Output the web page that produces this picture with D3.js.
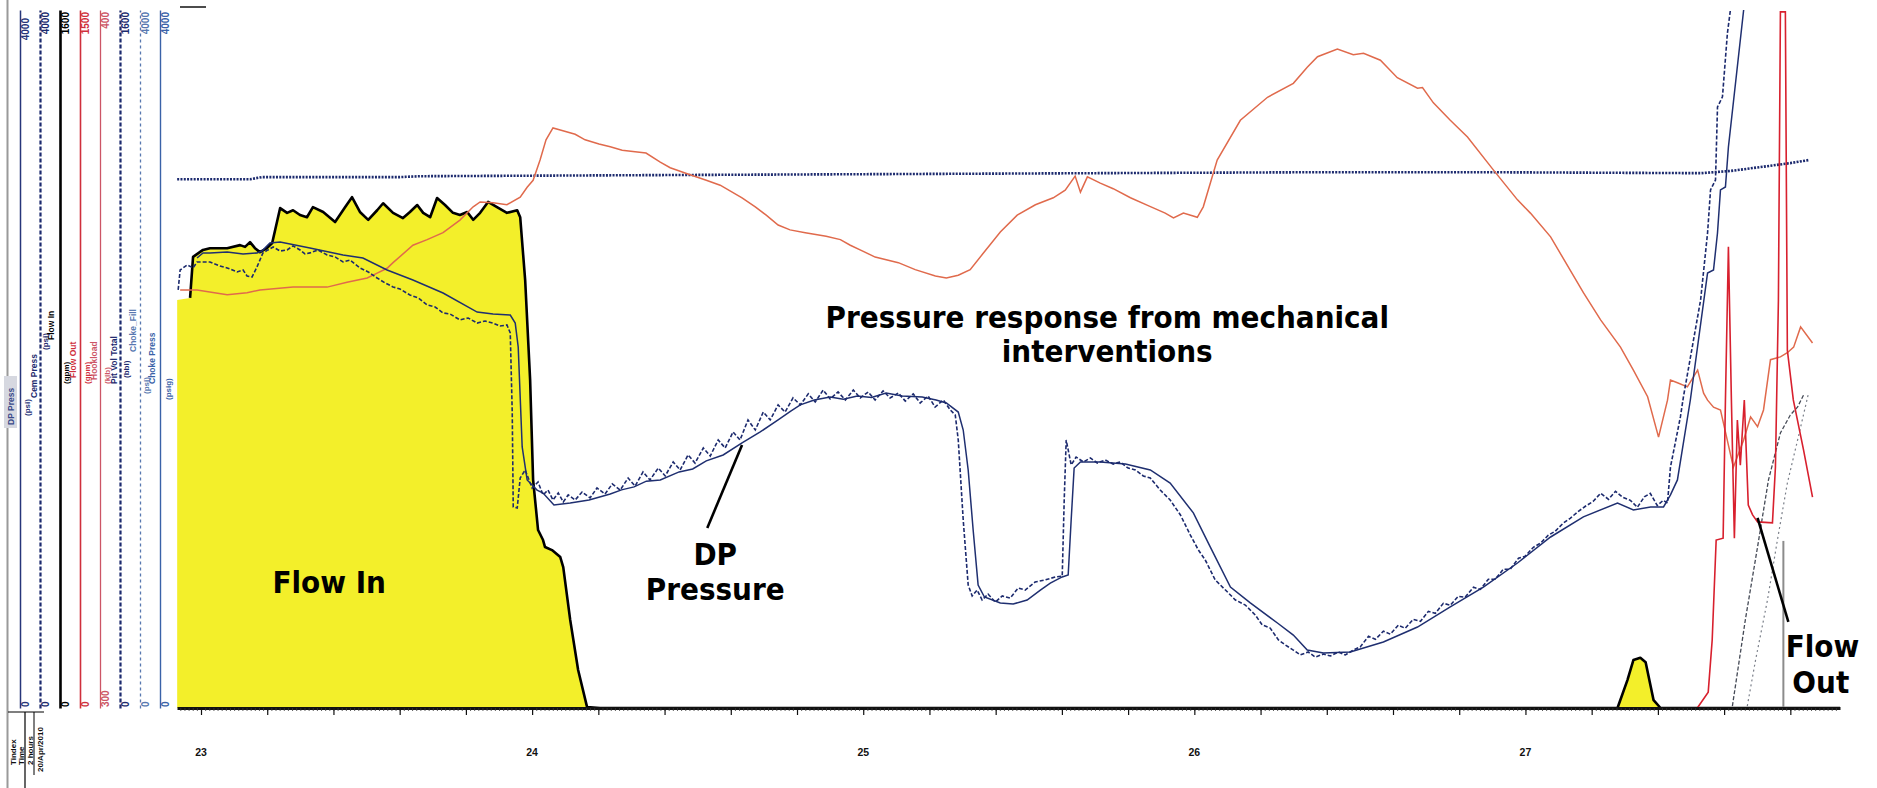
<!DOCTYPE html>
<html><head><meta charset="utf-8">
<script src="https://cdn.jsdelivr.net/npm/d3@7"></script>
<style>
html,body{margin:0;padding:0;background:#fff;}
svg{display:block;}
.ann{font-family:"Liberation Sans Narrow","DejaVu Sans Condensed","Arial Narrow",sans-serif;font-stretch:condensed;font-weight:bold;fill:#000;}
.ax{font-family:"Liberation Sans","DejaVu Sans",sans-serif;font-weight:bold;}
</style></head><body>
<svg id="chart" width="1877" height="788"></svg>
<script>
// ---------------- DATA ----------------
const timeTicks = [0, 10, 20, 30, 40];            // minutes
const timeLabels = ["23", "24", "25", "26", "27"];
const axisNames = ["DP Press","Cem Press","Flow In","Flow Out","Hookload","Pit Vol Total","Choke_Fill","Choke Press"];
const axisUnits = ["(psi)","(psi)","(gpm)","(gpm)","(klb)","(bbl)","(psi)","(psig)"];
const axisMin = [0, 0, 0, 0, 300, 0, 0, 0];
const axisMax = [4000, 4000, 1600, 1500, 400, 1600, 4000, 4000];
const boxTexts = ["Tindex", "Time", "2 hours", "20/Apr/2010"];

// Flow In (gpm) [minute, value]
const flowIn = [[-0.72,935],[-0.33,940],[-0.24,1034],[0.06,1050],[0.27,1054],[0.79,1054],[1.18,1061],[1.33,1057],[1.48,1068],[1.63,1054],[1.78,1045],[1.99,1054],[2.15,1066],[2.39,1146],[2.60,1135],[2.78,1141],[2.99,1130],[3.20,1125],[3.38,1148],[3.69,1137],[4.05,1114],[4.35,1148],[4.56,1171],[4.80,1137],[5.05,1119],[5.32,1141],[5.50,1157],[5.80,1135],[6.10,1123],[6.31,1137],[6.53,1153],[6.71,1135],[6.92,1125],[7.13,1169],[7.37,1153],[7.61,1135],[7.82,1130],[8.04,1137],[8.22,1119],[8.43,1135],[8.67,1160],[8.94,1148],[9.24,1135],[9.55,1141],[9.64,1125],[9.79,981],[9.94,752],[10.03,523],[10.18,408],[10.33,385],[10.39,369],[10.60,362],[10.85,346],[10.94,323],[11.15,202],[11.39,87],[11.66,2],[12.05,0],[42.78,0],[43.08,64],[43.26,110],[43.47,115],[43.63,105],[43.87,18],[44.08,0],[49.5,0]];

// Hookload (klb)
const hookload = [[-0.63,359.9],[-0.12,359.9],[0.79,359.2],[1.39,359.5],[1.78,359.9],[2.78,360.3],[3.81,360.3],[4.41,361.0],[5.02,361.6],[5.32,362.3],[5.62,363.0],[5.80,363.8],[6.40,366.3],[6.83,367.1],[7.31,368.1],[7.82,369.9],[8.22,371.8],[8.43,372.5],[8.82,372.4],[9.24,372.1],[9.64,373.2],[9.85,374.6],[10.03,375.6],[10.24,378.5],[10.42,381.4],[10.63,383.1],[10.85,382.8],[11.30,382.2],[11.60,381.4],[12.02,380.8],[12.36,380.4],[12.72,379.9],[13.11,379.7],[13.44,379.5],[13.87,378.2],[14.17,377.4],[14.77,376.4],[15.26,375.6],[15.68,374.9],[16.34,373.1],[16.74,371.8],[17.07,370.6],[17.43,369.2],[17.79,368.5],[18.25,368.1],[18.88,367.6],[19.31,367.1],[19.61,366.3],[19.97,365.5],[20.36,364.6],[21.06,363.8],[21.57,362.8],[22.18,361.9],[22.51,361.6],[22.87,362.0],[23.23,362.8],[23.60,365.0],[24.14,368.2],[24.65,370.6],[25.20,372.1],[25.74,373.1],[26.10,374.2],[26.40,376.2],[26.56,373.9],[26.77,376.1],[27.16,375.2],[27.55,374.4],[28.07,373.1],[28.64,371.9],[29.12,370.9],[29.37,370.2],[29.67,370.9],[30.09,370.3],[30.27,371.8],[30.69,378.5],[31.39,384.2],[32.21,387.5],[32.99,389.5],[33.41,391.8],[33.72,393.3],[34.32,394.4],[34.80,393.6],[35.11,393.8],[35.62,392.8],[36.13,390.3],[36.74,388.8],[36.89,388.9],[37.22,386.7],[37.73,384.2],[38.25,381.8],[39.03,377.1],[39.76,372.8],[40.15,370.9],[40.76,367.5],[41.75,359.5],[42.27,355.6],[42.87,351.7],[43.26,348.4],[43.69,344.6],[44.02,338.8],[44.29,344.1],[44.38,347.0],[44.59,346.6],[44.89,346.0],[45.20,348.4],[45.38,345.1],[45.50,344.1],[45.68,343.1],[45.89,342.7],[46.28,334.5],[46.59,338.4],[46.80,341.7],[47.01,340.3],[47.19,342.7],[47.40,349.9],[47.70,350.3],[47.91,350.9],[48.10,351.7],[48.31,354.6],[48.67,352.3]];

// Pit Vol Total (bbl)
const pitVol = [[-0.72,1212],[1.48,1212],[1.84,1217],[6.01,1217],[6.62,1219],[15.08,1222],[21.12,1224],[27.16,1226],[33.20,1228],[39.24,1228],[45.29,1226],[46.19,1231],[47.10,1240],[48.00,1249],[48.55,1256]];

// DP Press (psi)
const dpPress = [[-0.12,2579],[0.06,2608],[0.27,2608],[0.79,2613],[1.27,2602],[1.69,2608],[1.84,2619],[2.08,2665],[2.39,2671],[3.29,2636],[4.29,2596],[4.89,2579],[5.62,2510],[6.40,2453],[7.31,2378],[8.34,2269],[8.82,2258],[9.34,2252],[9.49,2206],[9.58,2069],[9.70,1496],[9.85,1307],[10.15,1249],[10.33,1232],[10.66,1163],[11.15,1175],[11.72,1192],[12.36,1226],[12.70,1250],[13.08,1267],[13.45,1300],[13.87,1307],[14.44,1353],[14.85,1370],[15.26,1416],[15.77,1450],[16.34,1519],[16.89,1582],[17.43,1651],[17.80,1700],[18.10,1737],[18.52,1765],[19.00,1782],[19.40,1770],[19.82,1788],[20.25,1779],[20.69,1805],[21.18,1788],[21.78,1782],[22.20,1765],[22.51,1748],[22.87,1696],[23.02,1593],[23.17,1364],[23.32,1020],[23.47,705],[23.66,636],[24.14,602],[24.53,596],[24.95,619],[25.35,676],[25.65,716],[26.01,751],[26.19,762],[26.28,1077],[26.37,1375],[26.56,1410],[27.16,1410],[27.92,1398],[28.67,1364],[29.27,1289],[29.97,1118],[30.48,923],[31.09,693],[31.69,602],[32.51,487],[32.99,418],[33.41,332],[33.90,315],[34.71,321],[35.71,378],[36.74,464],[37.73,579],[38.73,693],[39.76,831],[40.76,980],[41.75,1095],[42.78,1175],[43.26,1135],[43.78,1152],[44.17,1152],[44.38,1221],[44.59,1307],[44.98,1765],[45.50,2493],[45.68,2510],[45.80,2722],[45.89,2969],[46.04,2986],[46.13,3215],[46.59,4000]];

// Cem Press (psi)
const cemPress = [[-0.69,2396],[-0.63,2510],[-0.42,2539],[-0.24,2522],[-0.12,2556],[0.27,2556],[0.57,2533],[0.79,2522],[1.09,2499],[1.27,2510],[1.39,2476],[1.54,2470],[1.69,2527],[1.87,2608],[2.02,2625],[2.18,2642],[2.39,2619],[2.60,2625],[2.78,2648],[2.99,2625],[3.14,2602],[3.29,2608],[3.53,2625],[3.81,2596],[4.05,2585],[4.29,2556],[4.50,2567],[4.80,2522],[5.05,2499],[5.32,2464],[5.56,2436],[5.80,2413],[6.01,2401],[6.31,2367],[6.56,2350],[6.83,2310],[7.07,2298],[7.31,2264],[7.52,2258],[7.82,2224],[8.07,2235],[8.34,2206],[8.58,2218],[8.82,2206],[9.03,2189],[9.24,2195],[9.34,2149],[9.40,1691],[9.43,1152],[9.55,1146],[9.64,1318],[9.79,1364],[10.00,1261],[10.18,1295],[10.33,1221],[10.48,1249],[10.63,1192],[10.79,1232],[10.94,1181],[11.09,1221],[11.30,1192],[11.51,1238],[11.75,1204],[11.96,1261],[12.20,1226],[12.42,1284],[12.66,1249],[12.90,1318],[13.11,1272],[13.35,1353],[13.56,1307],[13.81,1375],[14.02,1330],[14.26,1410],[14.47,1364],[14.71,1450],[14.92,1404],[15.17,1490],[15.38,1444],[15.62,1536],[15.83,1490],[16.07,1582],[16.28,1536],[16.52,1651],[16.74,1593],[16.98,1696],[17.19,1651],[17.43,1737],[17.64,1696],[17.88,1777],[18.10,1737],[18.34,1800],[18.55,1754],[18.79,1822],[19.00,1771],[19.24,1811],[19.46,1765],[19.70,1822],[19.91,1777],[20.15,1811],[20.36,1765],[20.60,1817],[20.81,1777],[21.06,1805],[21.27,1759],[21.51,1800],[21.72,1748],[21.96,1788],[22.17,1725],[22.42,1765],[22.63,1708],[22.78,1679],[22.87,1536],[23.02,1077],[23.17,705],[23.29,642],[23.44,676],[23.59,619],[23.77,653],[23.99,607],[24.20,642],[24.44,630],[24.68,688],[24.89,676],[25.19,722],[25.50,734],[25.80,751],[26.01,756],[26.07,1192],[26.13,1536],[26.19,1479],[26.28,1393],[26.43,1438],[26.65,1410],[26.86,1433],[27.07,1404],[27.31,1421],[27.55,1398],[27.76,1410],[28.00,1375],[28.22,1364],[28.46,1330],[28.67,1318],[28.97,1249],[29.27,1192],[29.58,1106],[29.88,991],[30.12,906],[30.33,848],[30.63,734],[30.94,676],[31.24,619],[31.54,590],[31.84,533],[32.05,476],[32.29,458],[32.54,390],[32.75,361],[32.99,332],[33.20,304],[33.44,321],[33.65,292],[33.90,309],[34.11,298],[34.35,321],[34.56,304],[34.80,332],[35.01,350],[35.26,411],[35.47,394],[35.71,440],[35.92,423],[36.16,474],[36.37,457],[36.61,508],[36.83,497],[37.07,554],[37.28,543],[37.52,600],[37.73,589],[37.97,640],[38.18,635],[38.43,692],[38.64,680],[38.88,738],[39.09,738],[39.33,795],[39.54,795],[39.79,858],[39.99,870],[40.24,921],[40.45,944],[40.69,990],[40.90,1013],[41.14,1059],[41.35,1087],[41.60,1127],[41.81,1156],[42.05,1185],[42.27,1231],[42.51,1196],[42.72,1242],[42.93,1208],[43.17,1190],[43.38,1150],[43.59,1210],[43.77,1230],[43.98,1160],[44.16,1190],[44.29,1175],[44.38,1381],[44.68,1668],[44.77,1782],[45.29,2338],[45.50,2722],[45.59,2969],[45.74,3026],[45.80,3444],[45.95,3502],[46.10,3868],[46.19,4000]];

// Flow Out (gpm)
const flowOut = [[45.19,0],[45.52,34],[45.64,146],[45.76,361],[45.97,365],[46.04,662],[46.13,991],[46.22,662],[46.31,365],[46.40,619],[46.49,522],[46.61,662],[46.73,436],[46.86,415],[47.01,400],[47.46,398],[47.55,518],[47.64,877],[47.70,1496],[47.85,1496],[47.91,769],[48.09,662],[48.40,554],[48.67,453]];

// Choke_Fill / Choke Press (psi)
const chokeFill = [[46.25,11],[46.64,504],[47.01,923],[47.34,1307],[47.70,1576],[48.00,1679],[48.22,1725],[48.40,1794]];
const chokePress = [[46.70,11],[46.95,275],[47.31,619],[47.61,963],[47.91,1289],[48.22,1536],[48.55,1805]];
// gray flow marker (gpm)
const flowMarker = [[47.79,0],[47.79,383]];

// annotations: [minute, psi-scale position]
const annotTexts = ["Pressure response from mechanical", "interventions", "DP", "Pressure", "Flow In", "Flow", "Out"];
const annotT = [27.37, 27.37, 15.53, 15.53, 3.87, 48.97, 48.92];
const annotP = [2241, 2046, 883, 682, 722, 355, 149];
const dpPointer = [[16.34, 1507], [15.29, 1032]];
const flowOutPointer = [[47.01, 1089], [47.94, 493]];

// ---------------- DRAW ----------------
const svg = d3.select("#chart");
const yTop = 10, yBot = 708;
const x = d3.scaleLinear().domain([-0.725, 49.5]).range([177, 1840]);
const yScales = axisMin.map((mn, i) => d3.scaleLinear().domain([mn, axisMax[i]]).range([yBot, yTop]));
const yP = yScales[0], yCem = yScales[1], yF = yScales[2], yFO = yScales[3], yH = yScales[4], yPit = yScales[5], yCF = yScales[6], yCP = yScales[7];

// left axis strip styling
const axisX = [20, 40, 60, 80, 100, 120, 140, 160];
const axisColor = ["#27357a", "#1c2a6e", "#000000", "#cf2f3c", "#cc5566", "#1c2a6e", "#5878b0", "#3a62a8"];
const axisWidth = [1.5, 2.2, 2.6, 1.6, 1.3, 2.2, 1.3, 1.4];
const axisDash = [null, "4,2", null, null, null, "4,2", "3,3", null];
const nameX = [11, 34, 51, 73, 94, 114, 133, 152];
const unitX = [27, 45, 66, 87, 107, 126, 146, 168];
const nameBottom = [425, 398, 340, 378, 380, 384, 352, 384];
const unitBottom = [416, 350, 384, 384, 384, 378, 394, 400];

// outer gray rule
svg.append("line").attr("x1", 7.5).attr("x2", 7.5).attr("y1", 0).attr("y2", 788).attr("stroke", "#9a9a9a").attr("stroke-width", 2);
// DP Press highlight box
svg.append("rect").attr("x", 4).attr("y", 376).attr("width", 13).attr("height", 52).attr("fill", "#d6d8e0");

axisX.forEach((ax, i) => {
  const g = svg.append("g").attr("transform", `translate(${ax},0)`);
  g.call(d3.axisRight(yScales[i]).tickValues([]).tickSizeOuter(0));
  g.select(".domain").attr("stroke", axisColor[i]).attr("stroke-width", axisWidth[i]).attr("stroke-dasharray", axisDash[i]);
  // top value
  svg.append("text").attr("class", "ax")
    .attr("transform", `translate(${ax + 5.5},${yScales[i](axisMax[i]) + (i === 0 ? 8 : 2)}) rotate(-90)`)
    .attr("text-anchor", "end").attr("dominant-baseline", "central")
    .attr("font-size", 10).attr("fill", axisColor[i]).text(axisMax[i]);
  // bottom value
  svg.append("text").attr("class", "ax")
    .attr("transform", `translate(${ax + 5.5},${yScales[i](axisMin[i]) - 1}) rotate(-90)`)
    .attr("text-anchor", "start").attr("dominant-baseline", "central")
    .attr("font-size", 10).attr("fill", axisColor[i]).text(axisMin[i]);
  // name and unit
  svg.append("text").attr("class", "ax")
    .attr("transform", `translate(${nameX[i]},${nameBottom[i]}) rotate(-90)`)
    .attr("text-anchor", "start").attr("dominant-baseline", "central")
    .attr("font-size", 8.5).attr("fill", i === 0 ? "#3a4a8a" : axisColor[i]).text(axisNames[i]);
  svg.append("text").attr("class", "ax")
    .attr("transform", `translate(${unitX[i]},${unitBottom[i]}) rotate(-90)`)
    .attr("text-anchor", "start").attr("dominant-baseline", "central")
    .attr("font-size", 8).attr("fill", axisColor[i]).text(axisUnits[i]);
});

// bottom-left time box
svg.append("line").attr("x1", 8).attr("x2", 44).attr("y1", 712).attr("y2", 712).attr("stroke", "#000").attr("stroke-width", 1.2);
svg.append("line").attr("x1", 25).attr("x2", 25).attr("y1", 712).attr("y2", 788).attr("stroke", "#000").attr("stroke-width", 1.2);
svg.append("line").attr("x1", 34).attr("x2", 34).attr("y1", 712).attr("y2", 775).attr("stroke", "#000").attr("stroke-width", 1);
const boxX = [13, 21, 30, 40];
boxTexts.forEach((t, i) => {
  svg.append("text").attr("class", "ax")
    .attr("transform", `translate(${boxX[i]},${i === 3 ? 772 : 765}) rotate(-90)`)
    .attr("text-anchor", "start").attr("dominant-baseline", "central")
    .attr("font-size", 8).attr("fill", "#111").text(t);
});

// plot clip
svg.append("clipPath").attr("id", "clip").append("rect").attr("x", 177).attr("y", 8).attr("width", 1670).attr("height", 702);
const plot = svg.append("g").attr("clip-path", "url(#clip)");

// Flow In area
plot.append("path").datum(flowIn)
  .attr("d", d3.area().x(d => x(d[0])).y0(yF(0)).y1(d => yF(d[1])))
  .attr("fill", "#f3ef2a");
plot.append("path").datum(flowIn.slice(1))
  .attr("d", d3.line().x(d => x(d[0])).y(d => yF(d[1])))
  .attr("fill", "none").attr("stroke", "#000").attr("stroke-width", 2.6).attr("stroke-linejoin", "round");

// Pit volume dotted
plot.append("path").datum(pitVol)
  .attr("d", d3.line().x(d => x(d[0])).y(d => yPit(d[1])))
  .attr("fill", "none").attr("stroke", "#1c2a6e").attr("stroke-width", 2.6).attr("stroke-dasharray", "2,1.3");

// Hookload
plot.append("path").datum(hookload)
  .attr("d", d3.line().x(d => x(d[0])).y(d => yH(d[1])))
  .attr("fill", "none").attr("stroke", "#e06a4c").attr("stroke-width", 1.5);

// choke lines
plot.append("path").datum(chokeFill)
  .attr("d", d3.line().x(d => x(d[0])).y(d => yCF(d[1])))
  .attr("fill", "none").attr("stroke", "#444955").attr("stroke-width", 1.3).attr("stroke-dasharray", "4,2");
plot.append("path").datum(chokePress)
  .attr("d", d3.line().x(d => x(d[0])).y(d => yCP(d[1])))
  .attr("fill", "none").attr("stroke", "#7a7f89").attr("stroke-width", 1.2).attr("stroke-dasharray", "2,3");
plot.append("path").datum(flowMarker)
  .attr("d", d3.line().x(d => x(d[0])).y(d => yF(d[1])))
  .attr("fill", "none").attr("stroke", "#8c8c8c").attr("stroke-width", 2);

// DP & Cem pressure
plot.append("path").datum(dpPress)
  .attr("d", d3.line().x(d => x(d[0])).y(d => yP(d[1])))
  .attr("fill", "none").attr("stroke", "#1f2f70").attr("stroke-width", 1.5);
plot.append("path").datum(cemPress)
  .attr("d", d3.line().x(d => x(d[0])).y(d => yCem(d[1])))
  .attr("fill", "none").attr("stroke", "#1c2a6e").attr("stroke-width", 1.6).attr("stroke-dasharray", "4,2");

// Flow Out
plot.append("path").datum(flowOut)
  .attr("d", d3.line().x(d => x(d[0])).y(d => yFO(d[1])))
  .attr("fill", "none").attr("stroke", "#d8202e").attr("stroke-width", 1.6);

// x axis baseline with dense ticks
const xAxisG = svg.append("g").attr("transform", `translate(0,${yBot})`);
xAxisG.call(d3.axisBottom(x).tickValues(d3.range(-0.625, 49.5, 0.125)).tickSize(3).tickFormat("").tickSizeOuter(0));
xAxisG.selectAll(".tick line").attr("stroke", "#333").attr("stroke-width", 0.8);
xAxisG.select(".domain").attr("stroke", "#111").attr("stroke-width", 3);
const xMajor = svg.append("g").attr("transform", `translate(0,${yBot})`);
xMajor.call(d3.axisBottom(x).tickValues(d3.range(0, 49, 2)).tickSize(7).tickFormat("").tickSizeOuter(0));
xMajor.select(".domain").remove();
xMajor.selectAll(".tick line").attr("stroke", "#111").attr("stroke-width", 1.2);
timeTicks.forEach((t, i) => {
  svg.append("text").attr("class", "ax").attr("x", x(t)).attr("y", 752)
    .attr("text-anchor", "middle").attr("dominant-baseline", "central")
    .attr("font-size", 10.5).attr("fill", "#111").text(timeLabels[i]);
});
// small top marker
svg.append("line").attr("x1", 180).attr("x2", 206).attr("y1", 7).attr("y2", 7).attr("stroke", "#111").attr("stroke-width", 1.5);

// annotations
annotTexts.forEach((t, i) => {
  svg.append("text").attr("class", "ann")
    .attr("x", x(annotT[i])).attr("y", yP(annotP[i]))
    .attr("text-anchor", "middle").attr("dominant-baseline", "central")
    .attr("font-size", 31).text(t);
});
[dpPointer, flowOutPointer].forEach(p => {
  svg.append("path").datum(p)
    .attr("d", d3.line().x(d => x(d[0])).y(d => yP(d[1])))
    .attr("stroke", "#000").attr("stroke-width", 2.6).attr("fill", "none");
});
</script>
</body></html>
